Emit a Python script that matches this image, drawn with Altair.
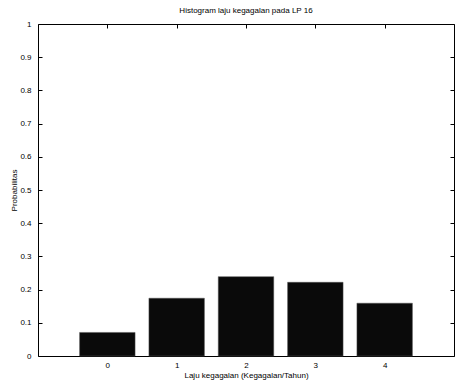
import altair as alt
import pandas as pd

# Failure-rate histogram (probability per failures/year)
rates = [0, 1, 2, 3, 4]
probs = [0.071, 0.174, 0.239, 0.222, 0.159]
half_width = 0.4

df = pd.DataFrame({"rate": rates, "prob": probs})
df["x0"] = df["rate"] - half_width
df["x1"] = df["rate"] + half_width

FONT = "Liberation Sans"
TICK = 4

x_scale = alt.Scale(domain=[-1, 5], nice=False, zero=False)
y_scale = alt.Scale(domain=[0, 1], nice=False)

base = alt.Chart(df)

bars = base.mark_bar(color="#0a0a0a", stroke="#555555", strokeWidth=0.5).encode(
    x=alt.X(
        "x0:Q",
        scale=x_scale,
        title="Laju kegagalan (Kegagalan/Tahun)",
        axis=alt.Axis(
            values=rates, format="d", domain=False, grid=False,
            tickSize=TICK, offset=-TICK, labelPadding=TICK + 1,
            tickColor="black", labelColor="black", labelFont=FONT,
            labelFontSize=8, titleFont=FONT, titleFontSize=8,
            titleFontWeight="normal", titleColor="black", titlePadding=2,
        ),
    ),
    x2="x1:Q",
    y=alt.Y(
        "prob:Q",
        scale=y_scale,
        title="Probabilitas",
        axis=alt.Axis(
            values=[i / 10 for i in range(11)], format="~g", domain=False,
            grid=False, tickSize=TICK, offset=-TICK, labelPadding=TICK + 3,
            tickColor="black", labelColor="black", labelFont=FONT,
            labelFontSize=8, titleFont=FONT, titleFontSize=8,
            titleFontWeight="normal", titleColor="black", titlePadding=1,
        ),
    ),
    y2=alt.datum(0),
)

# Mirror ticks on the top and right edges of the box
mirror = base.mark_bar(opacity=0).encode(
    x=alt.X(
        "x0:Q", scale=x_scale,
        axis=alt.Axis(orient="top", values=rates, labels=False, domain=False,
                      grid=False, tickSize=TICK, offset=-TICK,
                      tickColor="black", title=None),
    ),
    x2="x1:Q",
    y=alt.Y(
        "prob:Q", scale=y_scale,
        axis=alt.Axis(orient="right", values=[i / 10 for i in range(11)],
                      labels=False, domain=False, grid=False, tickSize=TICK,
                      offset=-TICK, tickColor="black", title=None),
    ),
    y2=alt.datum(0),
)

chart = (
    alt.layer(bars, mirror)
    .resolve_axis(x="independent", y="independent")
    .properties(
        width=416,
        height=332,
        autosize=alt.AutoSizeParams(type="none"),
        padding={"left": 38, "top": 24, "right": 5, "bottom": 25},
        background="white",
        title=alt.TitleParams(
            "Histogram laju kegagalan pada LP 16",
            font=FONT, fontSize=8, fontWeight="normal", color="black",
            anchor="middle", offset=5,
        ),
    )
    .configure_view(stroke="black", strokeWidth=1)
)

chart.save("out.html", embed_options={"renderer": "svg", "actions": False})
